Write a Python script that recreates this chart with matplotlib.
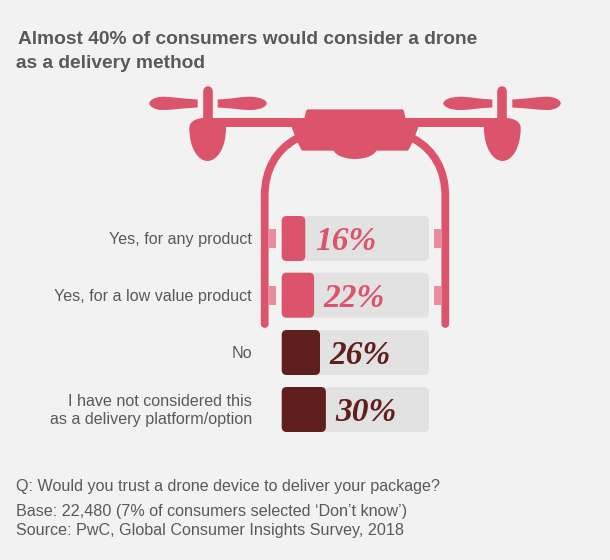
import matplotlib
matplotlib.use("Agg")
import matplotlib.pyplot as plt
from matplotlib.patches import FancyBboxPatch, Ellipse, Polygon, Rectangle, PathPatch
from matplotlib.path import Path

categories = ["Yes, for any product", "Yes, for a low value product", "No",
              "I have not considered this\nas a delivery platform/option"]
values = [16, 22, 26, 30]
value_labels = ["16%", "22%", "26%", "30%"]
bar_colors = ["#DB546B", "#DB546B", "#5E1F1D", "#5E1F1D"]
title = "Almost 40% of consumers would consider a drone\nas a delivery method"
notes = ["Q: Would you trust a drone device to deliver your package?",
         "Base: 22,480 (7% of consumers selected \u2018Don\u2019t know\u2019)",
         "Source: PwC, Global Consumer Insights Survey, 2018"]

PINK = "#DB546B"
LIGHT = "#E98C9B"
BG = "#F2F2F2"
TRACK = "#E2E2E2"
GREY = "#58595B"
plt.rcParams["font.family"] = ["Liberation Sans", "DejaVu Sans"]

fig = plt.figure(figsize=(6.1, 5.6), dpi=100, facecolor=BG)
ax = fig.add_axes([0, 0, 1, 1])
ax.set_xlim(0, 610)
ax.set_ylim(560, 0)
ax.axis("off")


def round_box(a, x0, y0, x1, y1, r, color, z):
    a.add_patch(FancyBboxPatch((x0 + r, y0 + r), x1 - x0 - 2 * r, y1 - y0 - 2 * r,
                               boxstyle=f"round,pad={r},rounding_size={r}",
                               fc=color, ec="none", zorder=z))


def blade(X, root, tip, belly):
    """Smooth tapered propeller blade from a flat root to a rounded tip."""
    d = 1 if tip > root else -1
    v = [(root, 99.5), (root + d * 18, 98.5), (belly, 96.7), (belly + d * 10, 96.7),
         (tip - d * 5, 97), (tip, 100.5), (tip, 103.3),
         (tip, 106), (tip - d * 5, 110), (belly + d * 10, 110),
         (belly, 110), (root + d * 18, 108.5), (root, 107.5), (root, 99.5)]
    c = [Path.MOVETO] + [Path.CURVE4] * 12 + [Path.CLOSEPOLY]
    ax.add_patch(PathPatch(Path([(X(x), y) for x, y in v], c), fc=PINK, ec="none", zorder=3))


def side(m):
    """Draw one half of the drone; m mirrors x about the centre line."""
    X = lambda x: 355 + m * (x - 355)
    blade(X, 197.7, 149.3, 172)
    blade(X, 217.7, 266.7, 240)
    # mast
    ax.plot([X(207.8), X(207.8)], [91, 122], color=PINK, lw=6.9,
            solid_capstyle="round", zorder=3)
    # arm
    ax.add_patch(Rectangle((min(X(207), X(310)), 117.7), 103, 9, fc=PINK, ec="none", zorder=3))
    # motor
    verts = [(X(189.3), 128), (X(189.3), 120), (X(199), 117.7), (X(207.5), 117.7),
             (X(218), 117.7), (X(226), 120), (X(226), 128),
             (X(226), 148), (X(217), 161), (X(207.5), 161),
             (X(198), 161), (X(189.3), 148), (X(189.3), 128), (X(189.3), 128)]
    codes = [Path.MOVETO] + [Path.CURVE4] * 12 + [Path.CLOSEPOLY]
    ax.add_patch(PathPatch(Path(verts, codes), fc=PINK, ec="none", zorder=3))
    # leg
    v = [(X(296), 139), (X(276), 150), (X(264.7), 170), (X(264.7), 196), (X(264.7), 324)]
    c = [Path.MOVETO, Path.CURVE4, Path.CURVE4, Path.CURVE4, Path.LINETO]
    ax.add_patch(PathPatch(Path(v, c), fc="none", ec=PINK, lw=5.6, capstyle="round", zorder=2))
    # connectors
    for y0 in (229, 286):
        ax.add_patch(Rectangle((min(X(268), X(276)), y0), 8, 19, fc=LIGHT, ec="none", zorder=2))


side(1)
side(-1)
# drone body: drawn inset with a thick round-joined edge to round the corners
ax.add_patch(Polygon([(308, 111.3), (402, 111.3), (404, 120), (417, 125), (412, 139),
                      (407, 148.7), (303, 148.7), (298, 139),
                      (293, 125), (306, 120)],
                     closed=True, fc=PINK, ec=PINK, lw=2.8, joinstyle="round", zorder=4))
ax.add_patch(Ellipse((355, 148), 44, 22, fc=PINK, ec="none", zorder=4))

ax.text(18, 39.5, title.split("\n")[0], fontsize=13.8, fontweight="bold", color=GREY, va="center")
ax.text(16, 63, title.split("\n")[1], fontsize=13.8, fontweight="bold", color=GREY, va="center")

# bars on a 0-100 scale
tops = [216, 272.7, 330, 387]
h = 45
X0, X1 = 281.7, 429
for cat, val, lab, col, t in zip(categories, values, value_labels, bar_colors, tops):
    round_box(ax, X0, t, X1, t + h, 5, TRACK, 3)
    end = X0 + (X1 - X0) * val / 100
    round_box(ax, X0, t, end, t + h, 5, col, 5)
    ax.text(end + 9.5, t + h / 2 + 3, lab, family=["Liberation Serif"], style="italic",
            fontweight="bold", fontsize=24, color=col, va="center", ha="left", zorder=6)
    ax.text(252, t + h / 2 + 1, cat, fontsize=11.6, color=GREY, ha="right", va="center",
            linespacing=1.2, zorder=6)

for y, s in zip((487, 511.5, 530.5), notes):
    ax.text(16, y, s, fontsize=11.6, color=GREY, va="center")

fig.savefig("out.png", dpi=100, facecolor=BG)
